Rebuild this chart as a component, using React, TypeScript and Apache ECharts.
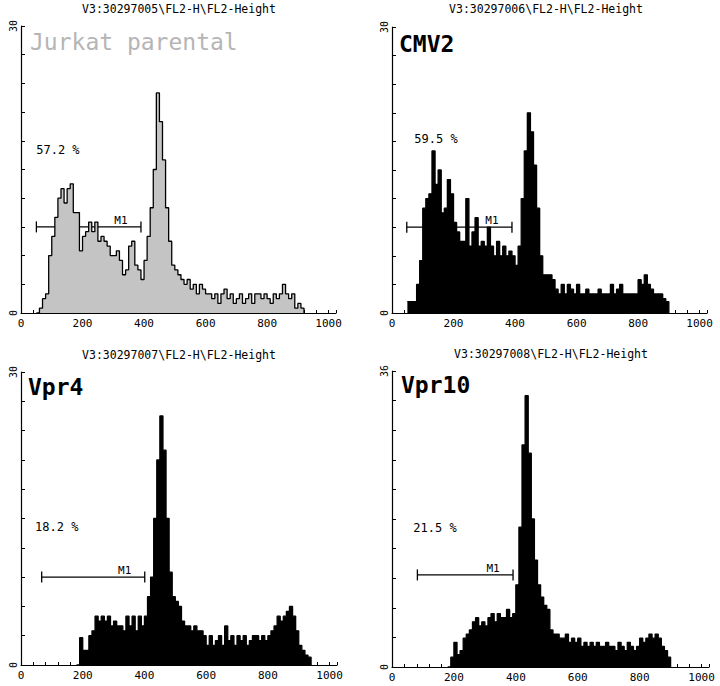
import React, { useEffect, useRef } from "react";
import * as echarts from "echarts";

const BIN = 10;
const titles = [
  "V3:30297005\\FL2-H\\FL2-Height",
  "V3:30297006\\FL2-H\\FL2-Height",
  "V3:30297007\\FL2-H\\FL2-Height",
  "V3:30297008\\FL2-H\\FL2-Height",
];
const sampleNames = ["Jurkat parental", "CMV2", "Vpr4", "Vpr10"];
const percentLabels = ["57.2 %", "59.5 %", "18.2 %", "21.5 %"];
const yMax = [30, 30, 30, 36];
const xLabelValues = [0, 200, 400, 600, 800, 1000];
const histStart = [50, 50, 180, 180];

const jurkatCounts = [
  0, 0.5, 1.5, 2, 6, 8, 10, 12, 13, 11.5,
  13, 13.5, 10.5, 10.5, 6.5, 8, 8.5, 9.5, 8.5, 9.5,
  7.5, 8, 7.5, 7, 6, 6, 6.5, 5.5, 4, 4.5,
  7, 7.5, 5, 4.5, 3.5, 5.5, 8, 11, 15, 23,
  20, 16, 11, 7.5, 5, 4.5, 4, 3.5, 3, 3.5,
  2.5, 3, 2, 3, 2.5, 2, 2, 1.5, 2, 1,
  2, 2.5, 1.5, 2, 1, 1.5, 2, 1, 1.5, 2,
  1, 2, 2, 1.5, 2, 1.5, 1, 2, 1.5, 2,
  3, 2, 1.5, 2, 0.5, 1, 0.5,
];
const cmv2Counts = [
  1.2, 1.2, 1.2, 3, 5.5, 11, 12, 12.5, 17, 13.5,
  15, 10.5, 11, 14, 12.5, 9.5, 8.5, 7.5, 7.5, 12,
  7, 8.5, 10, 7, 7.5, 7, 9, 7, 6, 7.5,
  6, 7, 6, 6.5, 6, 5, 7, 12, 17, 21,
  19, 15.5, 11, 6, 4, 4, 4, 3.5, 2.5, 2,
  3, 2, 3, 2.5, 2, 3, 2, 2, 2.5, 2,
  2, 2, 2.5, 2, 2, 2, 3, 2, 2.5, 3,
  2, 2, 2, 2, 2, 3.5, 3, 4, 3, 2.5,
  2, 2, 2, 1.5, 1.2,
];
const vpr4Counts = [
  0, 2.8, 1.5, 1.5, 3, 3.5, 5, 4.5, 5, 4.5,
  5, 4, 4.5, 4, 4, 3.5, 5, 4, 5, 3.5,
  5, 4, 5, 7, 9, 15, 21, 25.5, 22, 15,
  9.5, 7, 6.5, 6, 4.5, 4, 4, 3.5, 4, 3.5,
  3.5, 3, 2, 3, 2, 2.5, 3, 2, 4, 2.5,
  3, 2, 3, 2.5, 3, 2, 2.5, 3, 3, 2.5,
  3, 2.5, 3, 3.5, 4, 5, 4.5, 5, 5.5, 6,
  5, 3.5, 2, 1.5, 1, 0.8,
];
const vpr10Counts = [
  0, 1.2, 3, 1.5, 2, 3.5, 4, 4.5, 5.5, 6,
  5, 5.5, 5, 6, 6.5, 5.5, 6.5, 6, 6, 7,
  6, 6.5, 10, 17, 27, 33, 26, 18, 13, 10,
  8.5, 7.5, 7, 4.5, 4, 4, 3.5, 3.5, 4, 3,
  3.5, 3, 3.5, 2.5, 3, 2.5, 3, 2.5, 3, 2.5,
  2.5, 3, 2.5, 2.5, 2, 3, 2.5, 2, 3, 2.5,
  2, 2.5, 3.5, 3, 3.5, 4, 3.5, 4, 3.5, 2.5,
  2, 1.2,
];
const allCounts = [jurkatCounts, cmv2Counts, vpr4Counts, vpr10Counts];

const markerStart = [50, 48, 67, 82];
const markerEnd = [390, 390, 401, 391];
const markerLevel = [9, 9, 9, 11.2];
const percentX = [120, 143, 116, 139];
const percentY = [17, 18.2, 14.1, 16.9];

const MONO = '"DejaVu Sans Mono", "Liberation Mono", monospace';

const grids = [
  { left: 21, top: 26, width: 315, height: 287 },
  { left: 392, top: 27, width: 315, height: 286 },
  { left: 21, top: 372, width: 316, height: 293 },
  { left: 392, top: 371, width: 317, height: 296 },
];
const titlePos = [
  [179, 9],
  [546, 9],
  [179, 355],
  [551, 354],
];
const namePos = [
  [30, 42],
  [399, 44],
  [28, 387],
  [401, 385],
];

export default function App() {
  const ref = useRef<HTMLDivElement>(null);
  useEffect(() => {
    if (!ref.current) return;
    const chart = echarts.init(ref.current, null, { renderer: "svg" });
    const xAxes: any[] = [];
    const yAxes: any[] = [];
    const series: any[] = [];
    const graphic: any[] = [];
    for (let i = 0; i < 4; i++) {
      const ymax = yMax[i];
      xAxes.push({
        type: "value",
        gridIndex: i,
        min: 0,
        max: 1024,
        interval: 40,
        splitLine: { show: false },
        axisLine: { show: true, lineStyle: { color: "#000", width: 1.2 } },
        axisTick: { show: true, inside: true, length: 3, lineStyle: { color: "#000", width: 1 } },
        axisLabel: {
          show: true,
          margin: 5,
          fontFamily: MONO,
          fontSize: 11,
          color: "#000",
          formatter: (v: number) => (xLabelValues.indexOf(v) >= 0 ? String(v) : ""),
        },
      });
      yAxes.push({
        type: "value",
        gridIndex: i,
        min: 0,
        max: ymax,
        interval: ymax / 10,
        splitLine: { show: false },
        axisLine: { show: true, lineStyle: { color: "#000", width: 1.2 } },
        axisTick: { show: true, inside: true, length: 4, lineStyle: { color: "#000", width: 1 } },
        axisLabel: {
          show: true,
          rotate: 90,
          margin: 3,
          fontFamily: MONO,
          fontSize: 10,
          color: "#000",
          formatter: (v: number) =>
            Math.abs(v) < 1e-6 || Math.abs(v - ymax) < 1e-6 ? String(Math.round(v)) : "",
        },
      });
      const counts = allCounts[i];
      const pts: number[][] = counts.map((c, j) => [histStart[i] + j * BIN, c]);
      pts.push([histStart[i] + counts.length * BIN, 0]);
      series.push({
        type: "line",
        xAxisIndex: i,
        yAxisIndex: i,
        data: pts,
        step: "end",
        symbol: "none",
        lineStyle: { color: "#000", width: 1.3 },
        areaStyle: { color: i === 0 ? "#c4c4c4" : "#000", opacity: 1 },
        silent: true,
      });
      series.push({
        type: "custom",
        xAxisIndex: i,
        yAxisIndex: i,
        data: [[markerStart[i], markerEnd[i], markerLevel[i]]],
        encode: { x: [0, 1], y: 2 },
        renderItem: (params: any, api: any) => {
          const a = api.coord([api.value(0), api.value(2)]);
          const b = api.coord([api.value(1), api.value(2)]);
          const st = { stroke: "#000", lineWidth: 1.3 };
          return {
            type: "group",
            children: [
              { type: "line", shape: { x1: a[0], y1: a[1], x2: b[0], y2: b[1] }, style: st },
              { type: "line", shape: { x1: a[0], y1: a[1] - 5.5, x2: a[0], y2: a[1] + 5.5 }, style: st },
              { type: "line", shape: { x1: b[0], y1: b[1] - 5.5, x2: b[0], y2: b[1] + 5.5 }, style: st },
              {
                type: "text",
                style: {
                  text: "M1",
                  x: b[0] - 20,
                  y: b[1] - 1,
                  align: "center",
                  verticalAlign: "bottom",
                  font: `11px ${MONO}`,
                  fill: "#000",
                },
              },
            ],
          };
        },
        silent: true,
      });
      series.push({
        type: "custom",
        xAxisIndex: i,
        yAxisIndex: i,
        data: [[percentX[i], percentY[i]]],
        encode: { x: 0, y: 1 },
        renderItem: (params: any, api: any) => {
          const p = api.coord([api.value(0), api.value(1)]);
          return {
            type: "text",
            style: {
              text: percentLabels[i],
              x: p[0],
              y: p[1],
              align: "center",
              verticalAlign: "middle",
              font: `12px ${MONO}`,
              fill: "#000",
            },
          };
        },
        silent: true,
      });
      graphic.push({
        type: "text",
        x: titlePos[i][0],
        y: titlePos[i][1],
        style: {
          text: titles[i],
          align: "center",
          verticalAlign: "middle",
          font: `11.5px ${MONO}`,
          fill: "#000",
        },
      });
      graphic.push({
        type: "text",
        x: namePos[i][0],
        y: namePos[i][1],
        style: {
          text: sampleNames[i],
          align: "left",
          verticalAlign: "middle",
          font: `${i === 0 ? "normal" : "bold"} 23px ${MONO}`,
          fill: i === 0 ? "#b5b5b5" : "#000",
        },
      });
    }
    chart.setOption({
      animation: false,
      backgroundColor: "#fff",
      grid: grids,
      xAxis: xAxes,
      yAxis: yAxes,
      series,
      graphic,
    });
    return () => chart.dispose();
  }, []);
  return (
    <div
      ref={ref}
      style={{ position: "fixed", left: 0, top: 0, width: 720, height: 686, background: "#fff" }}
    />
  );
}
